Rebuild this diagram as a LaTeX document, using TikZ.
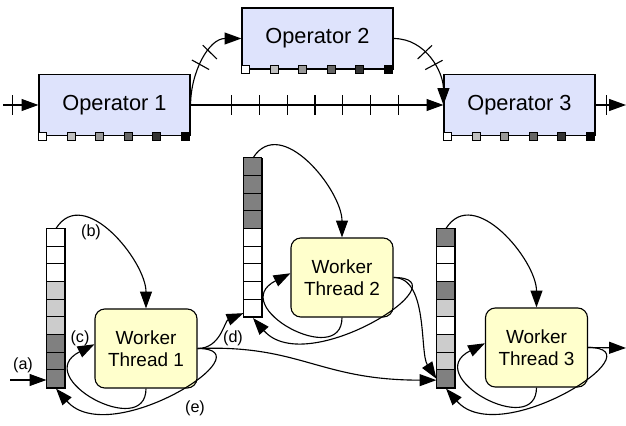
\documentclass[tikz,border=0pt]{standalone}
\usepackage{fontspec}
\setmainfont{Liberation Sans}
\usetikzlibrary{arrows.meta,decorations.markings}

\definecolor{opfill}{RGB}{222,227,252}
\definecolor{wkfill}{RGB}{255,255,204}
\definecolor{lgray}{RGB}{204,204,204}
\definecolor{dgray}{RGB}{128,128,128}
\definecolor{sqa}{RGB}{192,192,192}
\definecolor{sqb}{RGB}{153,153,153}
\definecolor{sqc}{RGB}{102,102,102}
\definecolor{sqd}{RGB}{51,51,51}

\begin{document}
\begin{tikzpicture}[x=0.025cm,y=0.025cm,line width=0.8pt,
  >={Triangle[length=12pt,width=8.5pt]},
  opbox/.style={draw,fill=opfill,minimum width=3.775cm,minimum height=1.525cm,inner sep=0pt,font=\fontsize{15.5}{18}\selectfont},
  worker/.style={draw,fill=wkfill,rounded corners=7pt,minimum width=2.55cm,minimum height=1.975cm,align=center,font=\fontsize{13.5}{15.5}\selectfont},
  queue/.style={draw,minimum width=0.45cm,minimum height=3.975cm,inner sep=0pt},
  lbl/.style={font=\fontsize{11.5}{13}\selectfont},
  tickmark/.style={postaction={decorate,decoration={markings,
    mark=at position #1 with {\draw[-,line width=0.8pt] (0,-7pt) -- (0,7pt);}}}},
  tickpair/.style 2 args={postaction={decorate,decoration={markings,
    mark=at position #1 with {\draw[-,line width=0.8pt] (0,-7pt) -- (0,7pt);},
    mark=at position #2 with {\draw[-,line width=0.8pt] (0,-7pt) -- (0,7pt);}}}},
  tickrow/.style={postaction={decorate,decoration={markings,
    mark=between positions 1.025cm and 5.3cm step 0.695cm with {\draw[-,line width=0.8pt] (0,-7pt) -- (0,7pt);}}}},
]

\useasboundingbox (0,0) rectangle (626,-426);

% operators (top)
\node[opbox] (op1) at (114.5,-105) {Operator 1};
\node[opbox] (op2) at (317.5,-38.5) {Operator 2};
\node[opbox] (op3) at (519.5,-105) {Operator 3};

\foreach \o in {op1,op2,op3}
  \foreach \c [count=\i from 0] in {white,sqa,sqb,sqc,sqd,black}
    \filldraw[fill=\c,line width=0.6pt,shift={(\o.south west)}] (\i*28.6,-4) rectangle ++(8,8);

\coordinate (opin) at (3,-105);
\coordinate (opout) at (626,-105);

\draw[->,tickmark=0.28] (opin) -- (op1.west);
\draw[->,tickrow] (op1.east) -- (op3.west);
\draw[->,tickpair={0.45}{0.62}] (op1.east) to[out=90,in=180] (op2.west);
\draw[->,tickpair={0.38}{0.55}] (op2.east) to[out=0,in=90] (op3.west);
\draw[->,tickmark=0.35] (op3.east) -- (opout);

% queues
\node[queue] (q1) at (56,-308.5) {};
\node[queue] (q2) at (253,-238) {};
\node[queue] (q3) at (446,-308.5) {};

\foreach \c [count=\i from 0] in {white,white,white,lgray,lgray,lgray,dgray,dgray,dgray}
  \filldraw[fill=\c,shift={(q1.north west)}] (0,-\i*17.667) rectangle ++(18,-17.667);
\foreach \c [count=\i from 0] in {dgray,dgray,dgray,dgray,white,white,white,white,white}
  \filldraw[fill=\c,shift={(q2.north west)}] (0,-\i*17.667) rectangle ++(18,-17.667);
\foreach \c [count=\i from 0] in {dgray,white,white,dgray,lgray,white,lgray,lgray,dgray}
  \filldraw[fill=\c,shift={(q3.north west)}] (0,-\i*17.667) rectangle ++(18,-17.667);

% worker threads
\node[worker] (w1) at (146,-348.5) {Worker\\Thread 1};
\node[worker] (w2) at (342,-277.5) {Worker\\Thread 2};
\node[worker] (w3) at (536.5,-347.5) {Worker\\Thread 3};

\foreach \q/\w in {q1/w1,q2/w2,q3/w3}{
  \draw[->] (\q.north) .. controls +(28,44) and +(0,47) .. (\w.north);
  \draw[->] (\w.south) .. controls +(0,-52) and +(-65,-33) .. ([yshift=3pt]\w.west);
  \draw[->] (\w.east) .. controls +(73,0) and +(54,-62) .. (\q.south);
}

\coordinate (ain) at (10,-380);
\coordinate (w3out) at (626,-348);

\draw[->] (ain) -- (ain -| q1.west);
\draw[->] (w1.east) .. controls +(23,0) and +(-19,-8) .. ([yshift=3.5pt]q2.south west);
\draw[->] (w1.east) .. controls +(103,4) and +(-118,0) .. ([yshift=6pt]q3.south west);
\draw[->] (w2.east) .. controls +(35,0) and +(-17,26) .. ([yshift=7pt]q3.south west);
\draw[->] (w3.east) -- (w3out);

% labels
\node[lbl] (la) at (23,-365) {(a)};
\node[lbl] (lb) at (91,-232) {(b)};
\node[lbl] (lc) at (80,-338) {(c)};
\node[lbl] (ld) at (233,-338) {(d)};
\node[lbl] (le) at (195,-408) {(e)};

\end{tikzpicture}
\end{document}
